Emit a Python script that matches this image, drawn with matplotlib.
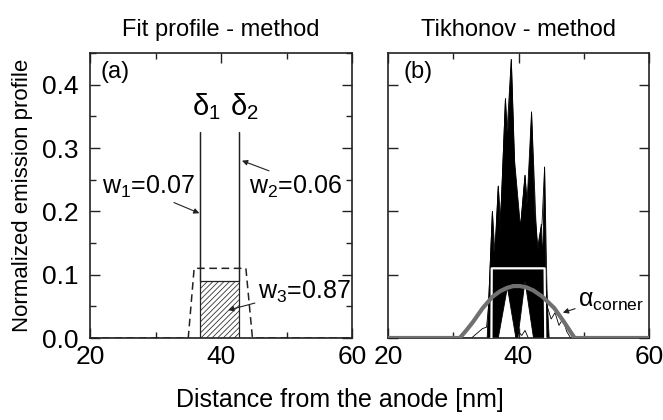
import matplotlib
matplotlib.use('Agg')
import matplotlib.pyplot as plt
from matplotlib.ticker import MultipleLocator, FormatStrFormatter

plt.rcParams['font.family'] = ['Liberation Sans', 'DejaVu Sans']
plt.rcParams['mathtext.fontset'] = 'custom'
plt.rcParams['mathtext.rm'] = 'Liberation Sans'
plt.rcParams['mathtext.it'] = 'Liberation Sans:italic'
plt.rcParams['hatch.linewidth'] = 0.6

# ---------------- data ----------------
# (a) fit profile
fit_x = [20, 36.8, 36.8, 36.8, 42.7, 42.7, 42.7, 60]
fit_y = [0, 0, 0.325, 0.09, 0.09, 0.325, 0, 0]
box_x = [36.8, 42.7]
box_y = [0.09, 0.09]
trap_x = [20, 35.0, 35.9, 43.8, 44.8, 60]
trap_y = [0, 0, 0.11, 0.11, 0, 0]

# (b) Tikhonov ensemble: outline of the dense black band
band_x = [35.2, 35.6, 36.0, 36.3, 36.9, 37.2, 38.0, 38.3, 38.9, 39.4, 40.3, 41.0,
          41.3, 42.0, 42.5, 43.0, 43.5, 43.7, 44.0, 44.2, 44.7,
          42.3, 41.0, 39.9, 39.6, 38.3, 36.9, 35.2]
band_y = [0.0, 0.10, 0.20, 0.12, 0.24, 0.17, 0.378, 0.31, 0.44, 0.28, 0.175, 0.257,
          0.21, 0.357, 0.20, 0.14, 0.18, 0.12, 0.27, 0.10, 0.0,
          0.0, 0.09, 0.0, 0.0, 0.08, 0.0, 0.0]
# individual spiky solutions drawn as thin lines
spike1_x = [35.4, 36.0, 36.6, 37.4, 38.0, 38.6, 39.0, 39.8]
spike1_y = [0.05, 0.20, 0.10, 0.22, 0.378, 0.25, 0.20, 0.12]
spike2_x = [37.0, 37.8, 38.9, 39.6, 40.2, 41.0, 41.6, 42.0, 42.8]
spike2_y = [0.10, 0.25, 0.44, 0.20, 0.16, 0.257, 0.18, 0.357, 0.15]
spike3_x = [42.6, 43.2, 43.6, 44.0, 44.4]
spike3_y = [0.12, 0.16, 0.18, 0.27, 0.06]
spike4_x = [35.8, 36.4, 36.9, 37.5, 38.2]
spike4_y = [0.08, 0.13, 0.24, 0.15, 0.30]
low1_x = [20, 32.8, 34.5, 35.1, 35.5]
low1_y = [0, 0, 0.015, 0.017, 0.06]
low2_x = [44.4, 45.0, 45.6, 46.2, 46.8, 47.4, 48.0, 60]
low2_y = [0.05, 0.03, 0.04, 0.02, 0.03, 0.01, 0.0, 0.0]
low3_x = [39.5, 40.0, 40.5, 41.0, 41.5]
low3_y = [0.0, 0.01, 0.004, 0.012, 0.0]
rect_x = [35.85, 35.9, 44.0, 44.1]
rect_y = [0.0, 0.11, 0.11, 0.0]
corner_x = [20, 31.0, 32.0, 33.0, 34.5, 36.0, 37.2, 38.2, 39.2, 40.2, 41.2, 42.3, 43.7, 45.5, 47.0, 48.6, 60]
corner_y = [0, 0.0, 0.012, 0.025, 0.047, 0.065, 0.074, 0.079, 0.082, 0.082, 0.080, 0.075, 0.065, 0.047, 0.025, 0.0, 0]

W, H = 663, 420
fig = plt.figure(figsize=(W / 100, H / 100), dpi=100)
bottom = (H - 338) / H
top = (H - 53) / H
axa = fig.add_axes([90 / W, bottom, (352 - 90) / W, top - bottom])
axb = fig.add_axes([388 / W, bottom, (649 - 388) / W, top - bottom])

FS = 19
for ax in (axa, axb):
    ax.set_xlim(20, 60)
    ax.set_ylim(0, 0.45)
    ax.xaxis.set_major_locator(MultipleLocator(20))
    ax.xaxis.set_minor_locator(MultipleLocator(10))
    ax.yaxis.set_major_locator(MultipleLocator(0.1))
    ax.tick_params(which='both', direction='in', top=True, right=True, width=1.0, color='#222')
    ax.tick_params(which='major', length=7, labelsize=FS, pad=5)
    ax.tick_params(which='minor', length=4)
    ax.tick_params(axis='y', which='major', pad=8)
    for s in ax.spines.values():
        s.set_linewidth(1.2)
        s.set_color('#222')

axa.yaxis.set_minor_locator(MultipleLocator(0.05))
axa.yaxis.set_major_formatter(FormatStrFormatter('%.1f'))
axb.tick_params(axis='y', labelleft=False)

AFS = 18
# ---- panel (a)
axa.fill_between(box_x, 0, box_y, facecolor='white', edgecolor='#333', hatch='//////', linewidth=0, zorder=2)
axa.plot(fit_x, fit_y, color='#222', lw=0.9, zorder=3)
axa.plot(trap_x, trap_y, color='#222', lw=1.1, ls=(0, (5, 3)), zorder=3)
axa.text(21.6, 0.41, '(a)', fontsize=17)
axa.text(35.5, 0.352, r'$\mathregular{δ_1}$', fontsize=21)
axa.text(41.4, 0.352, r'$\mathregular{δ_2}$', fontsize=21)
axa.annotate(r'$\mathregular{w_1}$=0.07', xy=(36.7, 0.197), xytext=(21.9, 0.228), fontsize=AFS,
             arrowprops=dict(arrowstyle='-|>', lw=0.8, color='#222', mutation_scale=8,
                             shrinkA=0, shrinkB=0, relpos=(0.7, 0)))
axa.annotate(r'$\mathregular{w_2}$=0.06', xy=(43.2, 0.28), xytext=(44.2, 0.228), fontsize=AFS,
             arrowprops=dict(arrowstyle='-|>', lw=0.8, color='#222', mutation_scale=8,
                             shrinkA=0, shrinkB=0, relpos=(0.3, 1.0)))
axa.annotate(r'$\mathregular{w_3}$=0.87', xy=(41.1, 0.044), xytext=(45.6, 0.062), fontsize=AFS,
             arrowprops=dict(arrowstyle='-|>', lw=0.8, color='#222', mutation_scale=8,
                             shrinkA=0, shrinkB=0, relpos=(0.0, 0.1)))
axa.set_title('Fit profile - method', fontsize=17, pad=12)
axa.set_ylabel('Normalized emission profile', fontsize=16)
axa.yaxis.set_label_coords((33 - 90) / 262, 0.5)

# ---- panel (b)
axb.fill(band_x, band_y, color='black', lw=0.6, zorder=2)
for lx, ly in ((spike1_x, spike1_y), (spike2_x, spike2_y), (spike3_x, spike3_y),
               (spike4_x, spike4_y), (low1_x, low1_y), (low2_x, low2_y), (low3_x, low3_y)):
    axb.plot(lx, ly, color='black', lw=0.6, zorder=2)
axb.plot(rect_x, rect_y, color='white', lw=1.6, zorder=3)
axb.plot(corner_x, corner_y, color='#707070', lw=3, zorder=4, solid_capstyle='butt')
axb.text(22.3, 0.41, '(b)', fontsize=17)
axb.annotate(r'$\mathregular{α_{corner}}$', xy=(46.8, 0.04), xytext=(49.1, 0.05), fontsize=18,
             arrowprops=dict(arrowstyle='-|>', lw=0.8, color='#222', mutation_scale=8,
                             shrinkA=0, shrinkB=0, relpos=(0.0, 0.2)))
axb.set_title('Tikhonov - method', fontsize=17, pad=12)

fig.text(340 / W, 1 - 400 / H, 'Distance from the anode [nm]', fontsize=18, ha='center', va='center')

fig.savefig('out.png', dpi=100)
